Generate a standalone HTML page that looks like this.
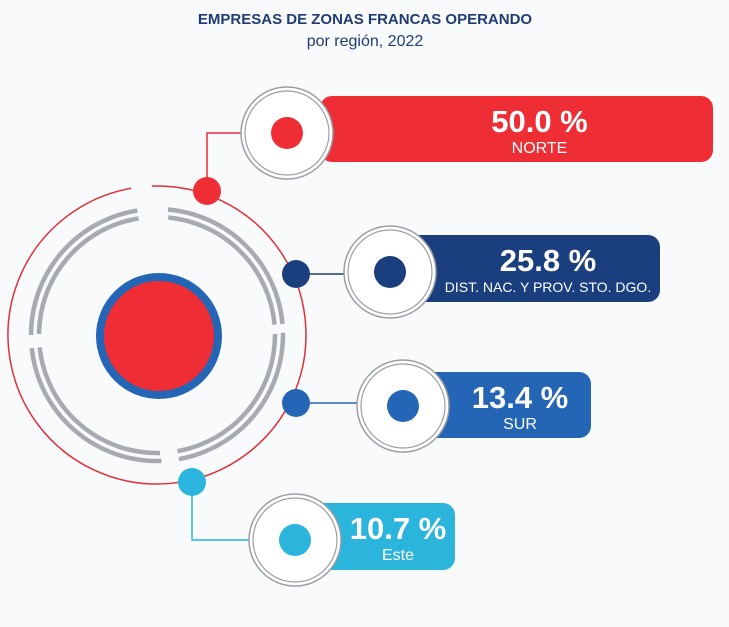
<!DOCTYPE html>
<html><head><meta charset="utf-8"><style>
body{margin:0;background:#f8fafc;font-family:"Liberation Sans",sans-serif}
svg{display:block}
</style></head><body>
<svg width="729" height="627" viewBox="0 0 729 627">
<text x="365" y="24" text-anchor="middle" font-size="15" font-weight="bold" fill="#1f3c73">EMPRESAS DE ZONAS FRANCAS OPERANDO</text>
<text x="365" y="46" text-anchor="middle" font-size="16" fill="#1f3c73">por región, 2022</text>
<g id="core"></g>
<g id="items"></g>
</svg>
<script>
const regions=["NORTE","DIST. NAC. Y PROV. STO. DGO.","SUR","Este"];
const values=[50.0,25.8,13.4,10.7];
const colors=["#ee2d35","#1b3f7e","#2565b5","#2bb5dc"];
const NS="http://www.w3.org/2000/svg";
function mk(tag,attrs,parent){const e=document.createElementNS(NS,tag);for(const k in attrs)e.setAttribute(k,attrs[k]);parent.appendChild(e);return e;}
const core=document.getElementById('core'),items=document.getElementById('items');
const cx=157,cy=335;
function arcPath(r,a0,a1){const p=a=>[cx+r*Math.cos(a*Math.PI/180),cy+r*Math.sin(a*Math.PI/180)];const s=p(a0),e=p(a1);const lg=(a1-a0)>180?1:0;return `M${s[0]} ${s[1]} A${r} ${r} 0 ${lg} 1 ${e[0]} ${e[1]}`;}
let o=mk('path',{d:arcPath(149,-92,260),fill:'none',stroke:'#e0303a','stroke-width':1.5},core);


[[-85,-5],[-1,80],[88,174],[180,261]].forEach(([a,b])=>{[126,118].forEach(r=>{const g=mk('path',{d:arcPath(r,a+(r==118?0.5:0),b),fill:'none',stroke:'#a7abb1','stroke-width':4.5},core);

});});
let bc=mk('circle',{cx:159,cy:336,r:63,fill:'#2565b5'},core);


mk('circle',{cx:159,cy:336,r:55,fill:'#ee2d35'},core);
const layout=[
 {dot:[207,191],ring:[287,133],bar:[320,96,713,162],elbow:'v'},
 {dot:[296,274],ring:[390,272],bar:[390,235,660,302],elbow:'h'},
 {dot:[296,403],ring:[403,406],bar:[403,372,591,438],elbow:'h'},
 {dot:[192,482],ring:[295,540],bar:[295,503,455,570],elbow:'v'}];
regions.forEach((name,i)=>{
 const L=layout[i],c=colors[i];
 const g=mk('g',{},items);
 
 
 const [x0,y0,x1,y1]=L.bar;
 const b=mk('rect',{x:x0,y:y0,width:x1-x0,height:y1-y0,rx:12,fill:c},g);
 
 
 const d=L.elbow=='v'?`M${L.dot[0]} ${L.dot[1]} V${L.ring[1]} H${L.ring[0]}`:`M${L.dot[0]} ${L.dot[1]} H${L.ring[0]}`;
 mk('path',{d:d,fill:'none',stroke:c,'stroke-width':1.5},g);
 mk('circle',{cx:L.ring[0],cy:L.ring[1],r:46,fill:'#fff',stroke:'#9a9ea4','stroke-width':1.5},g);
 mk('circle',{cx:L.ring[0],cy:L.ring[1],r:42,fill:'#fff',stroke:'#9a9ea4','stroke-width':1.2},g);
 mk('circle',{cx:L.ring[0],cy:L.ring[1],r:16,fill:c},g);
 const dt=mk('circle',{cx:L.dot[0],cy:L.dot[1],r:14,fill:c},g);
 
 
 const tx=(x0+46+x1)/2;
 const t1=mk('text',{x:tx,y:y0+36,'text-anchor':'middle','font-size':31,'font-weight':'bold',fill:'#fff'},g);
 t1.textContent=values[i].toFixed(1)+' %';
 
 
 const t2=mk('text',{x:tx,y:y0+57,'text-anchor':'middle','font-size':i==1?14:16,fill:'#fff'},g);
 t2.textContent=name;
 
 
});
</script>
</body></html>
